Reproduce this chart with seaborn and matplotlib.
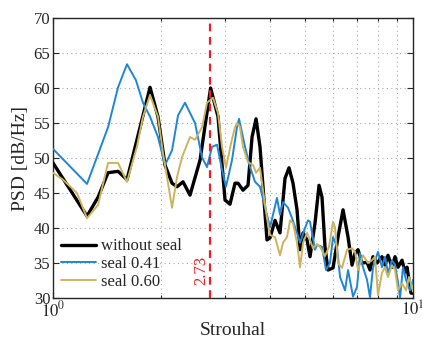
import numpy as np
import pandas as pd
import matplotlib
matplotlib.use("Agg")
import matplotlib.pyplot as plt
from matplotlib.ticker import LogLocator, FixedLocator, NullFormatter
import seaborn as sns

# Power spectral density vs Strouhal number, three configurations
st_noseal = [1.000, 1.243, 1.334, 1.422, 1.516, 1.605, 1.860, 1.957, 2.047, 2.141,
             2.211, 2.297, 2.402, 2.561, 2.740, 2.873, 3.005, 3.102, 3.203, 3.265,
             3.371, 3.481, 3.572, 3.664, 3.758, 3.930, 4.007, 4.137, 4.271, 4.410,
             4.525, 4.642, 4.762, 4.855, 4.950, 5.077, 5.175, 5.343, 5.482, 5.588,
             5.695, 5.806, 5.995, 6.190, 6.392, 6.600, 6.770, 6.902, 7.035, 7.217,
             7.451, 7.595, 7.743, 7.943, 8.201, 8.360, 8.521, 8.741, 8.913, 9.085,
             9.321, 9.501, 9.624, 9.873, 10.00]
psd_noseal = [49.3, 41.7, 44.4, 47.9, 48.1, 46.9, 60.1, 55.9, 49.0, 46.4,
              45.9, 46.6, 44.7, 49.7, 60.0, 55.9, 44.0, 43.4, 46.4, 46.4,
              45.4, 46.1, 53.0, 55.6, 51.6, 38.3, 38.6, 41.1, 39.3, 47.1,
              48.6, 46.4, 42.6, 36.9, 39.3, 38.3, 35.9, 40.7, 46.1, 44.4,
              37.3, 34.0, 34.3, 38.7, 42.6, 38.7, 34.7, 36.4, 36.9, 35.0,
              35.1, 34.0, 35.9, 35.0, 35.9, 34.7, 36.1, 34.4, 35.9, 34.4,
              35.4, 33.7, 34.4, 30.7, 30.7]

st_041 = [1.000, 1.243, 1.422, 1.516, 1.605, 1.700, 1.778, 1.860, 1.957, 2.047,
          2.141, 2.225, 2.326, 2.480, 2.594, 2.678, 2.765, 2.855, 2.948, 3.024,
          3.142, 3.244, 3.286, 3.415, 3.526, 3.641, 3.758, 3.881, 4.007, 4.190,
          4.271, 4.354, 4.496, 4.613, 4.762, 4.855, 5.012, 5.109, 5.175, 5.343,
          5.412, 5.588, 5.732, 5.880, 5.995, 6.150, 6.270, 6.474, 6.600, 6.813,
          6.990, 7.125, 7.263, 7.451, 7.595, 7.743, 7.994, 8.201, 8.360, 8.521,
          8.741, 8.913, 9.085, 9.203, 9.380, 9.563, 9.810, 10.00]
psd_041 = [51.3, 46.3, 54.4, 60.1, 63.4, 61.1, 57.9, 55.9, 53.0, 49.0,
           51.1, 56.1, 57.9, 55.0, 50.1, 48.7, 51.6, 51.9, 48.3, 45.9,
           49.7, 54.4, 55.6, 51.6, 48.7, 46.6, 45.9, 43.0, 40.1, 44.3,
           41.9, 43.7, 42.9, 41.4, 39.3, 37.9, 40.0, 41.1, 40.9, 36.9,
           37.6, 37.3, 34.0, 35.0, 38.7, 37.3, 33.0, 31.1, 34.0, 30.2,
           31.6, 36.4, 34.4, 32.6, 30.1, 34.4, 36.6, 34.4, 35.9, 33.6,
           35.4, 34.7, 32.3, 30.0, 34.4, 32.6, 31.1, 32.6]

st_060 = [1.000, 1.066, 1.166, 1.243, 1.334, 1.422, 1.516, 1.605, 1.710, 1.778,
          1.860, 1.957, 2.021, 2.087, 2.141, 2.211, 2.282, 2.402, 2.480, 2.594,
          2.678, 2.783, 2.873, 2.948, 3.024, 3.122, 3.203, 3.244, 3.307, 3.371,
          3.481, 3.594, 3.664, 3.758, 3.831, 3.930, 4.007, 4.137, 4.271, 4.354,
          4.467, 4.554, 4.642, 4.762, 4.855, 4.950, 5.077, 5.175, 5.275, 5.412,
          5.517, 5.695, 5.843, 5.995, 6.072, 6.190, 6.351, 6.558, 6.770, 6.902,
          7.035, 7.263, 7.499, 7.693, 7.842, 7.994, 8.201, 8.360, 8.521, 8.741,
          8.913, 9.085, 9.321, 9.563, 9.747, 10.00]
psd_060 = [47.9, 46.9, 45.0, 41.4, 43.3, 49.3, 49.3, 46.6, 51.6, 55.9,
           59.0, 55.9, 50.7, 46.4, 42.9, 47.3, 50.1, 53.0, 52.6, 54.4,
           57.9, 58.6, 56.4, 51.6, 48.6, 52.1, 54.4, 55.0, 54.4, 51.6,
           49.4, 49.0, 47.9, 48.6, 45.4, 41.4, 39.0, 38.7, 36.1, 37.9,
           38.7, 41.1, 40.7, 37.9, 34.4, 37.9, 39.3, 38.3, 37.1, 37.7,
           37.3, 36.0, 37.3, 40.9, 40.1, 35.0, 34.3, 36.9, 37.1, 36.6,
           34.0, 36.1, 35.0, 35.4, 35.9, 30.4, 33.6, 34.4, 33.0, 34.7,
           34.0, 31.1, 32.1, 31.1, 33.0, 30.9]

labels = ["without seal", "seal 0.41", "seal 0.60"]
colors = ["#000000", "#1f86d6", "#cdb35e"]
widths = [2.4, 1.4, 1.4]
st_peak = 2.73

sns.set_style("ticks")
plt.rcParams["font.family"] = ["Liberation Serif", "DejaVu Serif"]
plt.rcParams["mathtext.fontset"] = "stix"

fig = plt.figure(figsize=(4.22, 3.38), dpi=100)
ax = fig.add_axes([0.1256, 0.1183, 0.8531, 0.8284])

series = [(st_noseal, psd_noseal), (st_041, psd_041), (st_060, psd_060)]
for (st, psd), lab, c, lw in zip(series, labels, colors, widths):
    df = pd.DataFrame({"St": st, "PSD": psd})
    sns.lineplot(data=df, x="St", y="PSD", ax=ax, color=c, linewidth=lw,
                 label=lab, estimator=None, sort=False, zorder=3)

ax.axvline(st_peak, color="#ee1c25", linestyle=(0, (3.5, 2.5)), linewidth=1.6, zorder=4)
ax.text(st_peak * 0.992, 34.0, f"{st_peak:.2f}", color="#ee1c25", rotation=90,
        ha="right", va="center", fontsize=12)

ax.set_xscale("log")
ax.set_xlim(1, 10)
ax.set_ylim(30, 70)
ax.set_yticks(np.arange(30, 71, 5))
ax.xaxis.set_major_locator(FixedLocator([1, 10]))
ax.xaxis.set_minor_locator(LogLocator(base=10, subs=np.arange(2, 10)))
ax.xaxis.set_minor_formatter(NullFormatter())
ax.set_xticklabels([r"$10^0$", r"$10^1$"])

ax.grid(True, which="major", axis="y", linestyle=(0, (1, 3)), color="#aaaaaa", linewidth=0.8)
ax.grid(True, which="both", axis="x", linestyle=(0, (1, 3)), color="#aaaaaa", linewidth=0.8)
ax.tick_params(which="both", direction="in", top=True, right=True, labelsize=12,
               length=4, width=0.8, pad=2)
ax.tick_params(which="minor", length=2.5)
for sp in ax.spines.values():
    sp.set_linewidth(1.0)
    sp.set_visible(True)

ax.set_xlabel("Strouhal", fontsize=14, labelpad=1)
ax.set_ylabel("PSD [dB/Hz]", fontsize=14, labelpad=3)

leg = ax.legend(loc="lower left", frameon=False, fontsize=12, handlelength=2.1,
                handletextpad=0.3, labelspacing=0.1, borderaxespad=0.2,
                borderpad=0.3)

fig.savefig("out.png", dpi=100)
